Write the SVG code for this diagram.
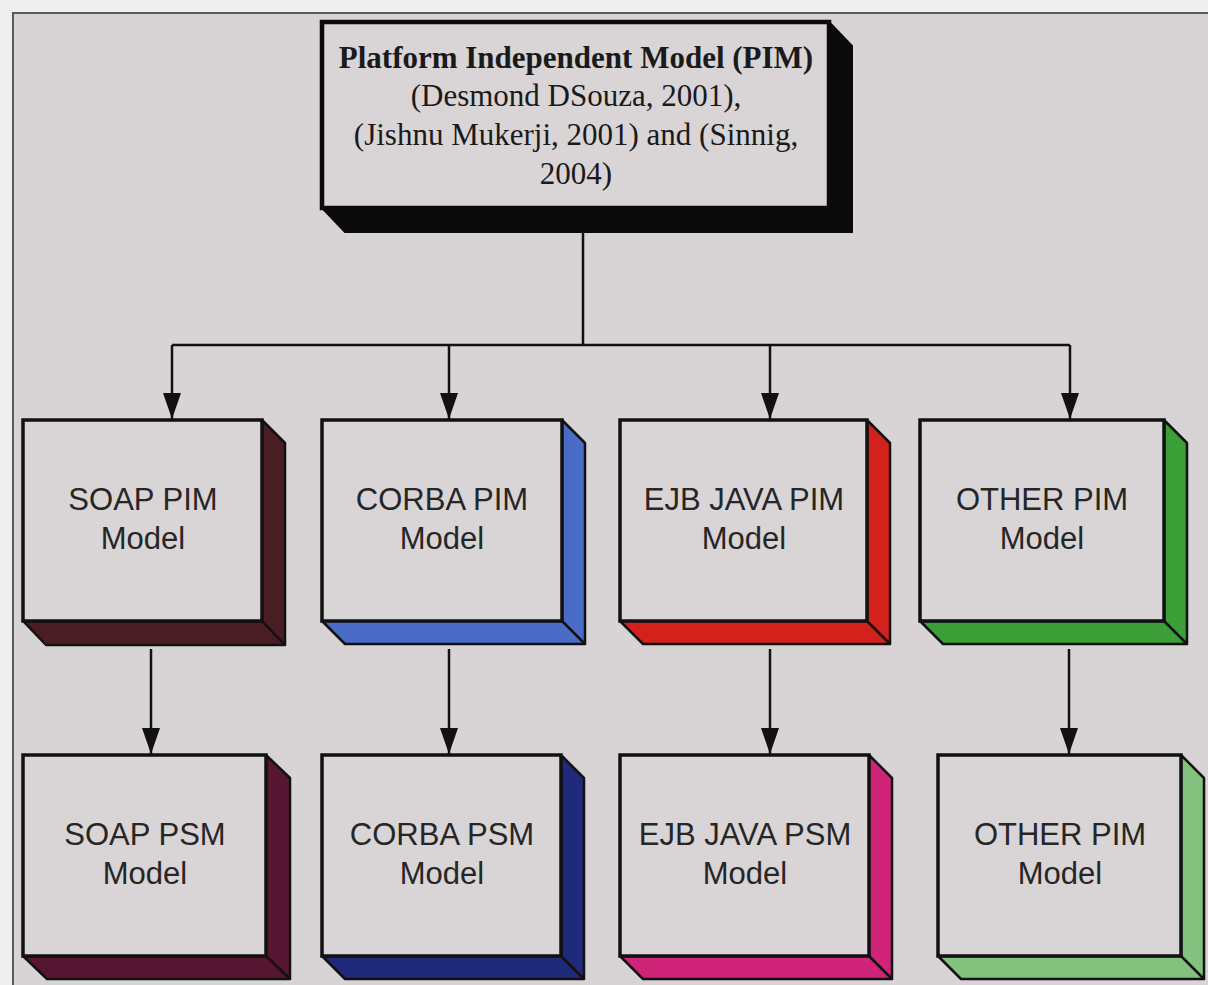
<svg xmlns="http://www.w3.org/2000/svg" width="1208" height="985" viewBox="0 0 1208 985">
<defs>
<style>
.bg{fill:#d8d3d5}
.face{fill:#d9d4d6;stroke:#111;stroke-width:3.5}
.ext{stroke:#111;stroke-width:2.5;stroke-linejoin:round}
.conn{fill:none;stroke:#111;stroke-width:2.5}
.lbl{font-family:"Liberation Sans",Arial,sans-serif;font-size:31px;fill:#262626;text-anchor:middle}
.ttl{font-family:"Liberation Serif","Times New Roman",serif;font-size:31px;fill:#1a1a1a;text-anchor:middle}
</style>
<marker id="arr" markerUnits="userSpaceOnUse" markerWidth="26" markerHeight="18" refX="26" refY="9" orient="auto">
<path d="M0,0 L26,9 L0,18 z" fill="#111"/>
</marker>
</defs>
<rect x="0" y="0" width="1208" height="985" fill="#efefef"/>
<rect x="13" y="13" width="1195" height="972" class="bg"/>
<path d="M13,985 V13 H1208" fill="none" stroke="#5a5a5a" stroke-width="2"/>

<g id="connectors">
<path class="conn" d="M583,232 V345 M172,345 H1070"/>
<path class="conn" d="M172,345 V419" marker-end="url(#arr)"/>
<path class="conn" d="M449,345 V419" marker-end="url(#arr)"/>
<path class="conn" d="M770,345 V419" marker-end="url(#arr)"/>
<path class="conn" d="M1070,345 V419" marker-end="url(#arr)"/>
<path class="conn" d="M151,649 V754" marker-end="url(#arr)"/>
<path class="conn" d="M449,649 V754" marker-end="url(#arr)"/>
<path class="conn" d="M770,649 V754" marker-end="url(#arr)"/>
<path class="conn" d="M1069,649 V754" marker-end="url(#arr)"/>
</g>

<g id="pim">
<path d="M829,22 L852,46 L852,232 L345,232 L322,208 Z" fill="#0a0a0a" stroke="#0a0a0a" stroke-width="2"/>
<rect x="322" y="22" width="507" height="186" fill="#d9d4d6" stroke="#0a0a0a" stroke-width="4.5"/>
<text class="ttl" x="576" y="68" font-weight="bold">Platform Independent Model (PIM)</text>
<text class="ttl" x="576" y="106">(Desmond DSouza, 2001),</text>
<text class="ttl" x="576" y="145">(Jishnu Mukerji, 2001) and (Sinnig,</text>
<text class="ttl" x="576" y="184">2004)</text>
</g>

<g id="soap-pim">
<path class="ext" fill="#4a1c24" d="M262,420 L285,443 L285,645 L262,621 Z M23,621 L262,621 L285,645 L46,645 Z"/>
<rect class="face" x="23" y="420" width="239" height="201"/>
<text class="lbl" x="143" y="510">SOAP PIM</text>
<text class="lbl" x="143" y="549">Model</text>
</g>

<g id="corba-pim">
<path class="ext" fill="#4a6bc6" d="M562,420 L585,443 L585,644 L562,621 Z M322,621 L562,621 L585,644 L345,644 Z"/>
<rect class="face" x="322" y="420" width="240" height="201"/>
<text class="lbl" x="442" y="510">CORBA PIM</text>
<text class="lbl" x="442" y="549">Model</text>
</g>

<g id="ejb-pim">
<path class="ext" fill="#d3221c" d="M867,420 L890,443 L890,644 L867,621 Z M620,621 L867,621 L890,644 L643,644 Z"/>
<rect class="face" x="620" y="420" width="247" height="201"/>
<text class="lbl" x="744" y="510">EJB JAVA PIM</text>
<text class="lbl" x="744" y="549">Model</text>
</g>

<g id="other-pim">
<path class="ext" fill="#3b9e36" d="M1164,420 L1187,443 L1187,644 L1164,621 Z M920,621 L1164,621 L1187,644 L943,644 Z"/>
<rect class="face" x="920" y="420" width="244" height="201"/>
<text class="lbl" x="1042" y="510">OTHER PIM</text>
<text class="lbl" x="1042" y="549">Model</text>
</g>

<g id="soap-psm">
<path class="ext" fill="#561632" d="M266,755 L290,778 L290,979 L266,956 Z M23,956 L266,956 L290,979 L47,979 Z"/>
<rect class="face" x="23" y="755" width="243" height="201"/>
<text class="lbl" x="145" y="845">SOAP PSM</text>
<text class="lbl" x="145" y="884">Model</text>
</g>

<g id="corba-psm">
<path class="ext" fill="#1f2a7a" d="M561,755 L584,778 L584,979 L561,956 Z M322,956 L561,956 L584,979 L345,979 Z"/>
<rect class="face" x="322" y="755" width="239" height="201"/>
<text class="lbl" x="442" y="845">CORBA PSM</text>
<text class="lbl" x="442" y="884">Model</text>
</g>

<g id="ejb-psm">
<path class="ext" fill="#cf2478" d="M869,755 L892,778 L892,979 L869,956 Z M620,956 L869,956 L892,979 L643,979 Z"/>
<rect class="face" x="620" y="755" width="249" height="201"/>
<text class="lbl" x="745" y="845">EJB JAVA PSM</text>
<text class="lbl" x="745" y="884">Model</text>
</g>

<g id="other-psm">
<path class="ext" fill="#82c27e" d="M1181,755 L1204,778 L1204,979 L1181,956 Z M938,956 L1181,956 L1204,979 L961,979 Z"/>
<rect class="face" x="938" y="755" width="243" height="201"/>
<text class="lbl" x="1060" y="845">OTHER PIM</text>
<text class="lbl" x="1060" y="884">Model</text>
</g>
</svg>
